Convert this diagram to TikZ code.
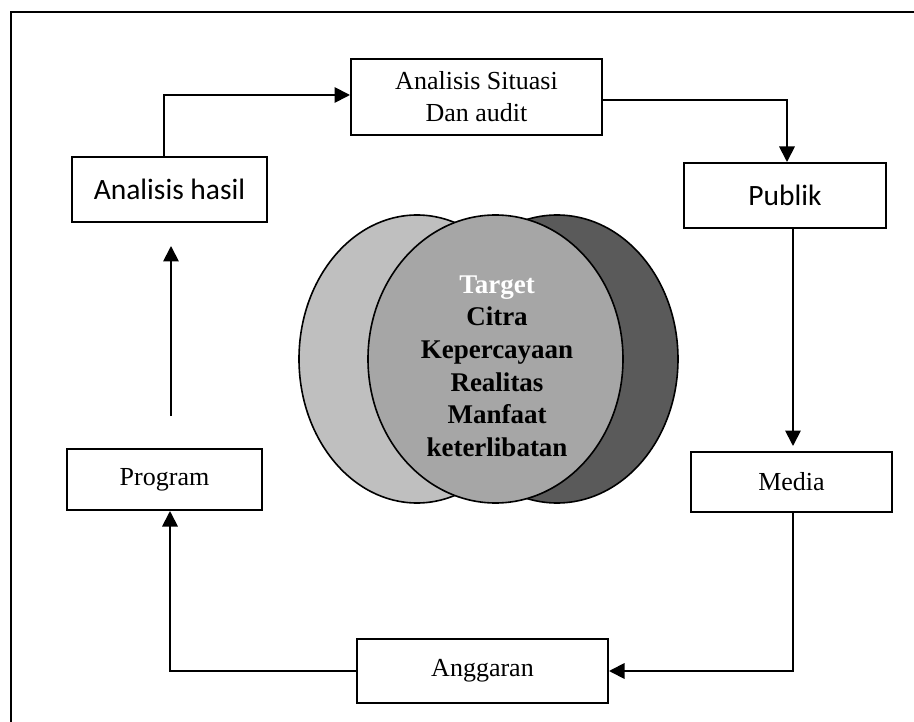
\documentclass[tikz,border=0pt]{standalone}
\usepackage{fontspec}
\setmainfont{Liberation Serif}
\newfontfamily\calib{Carlito}
\usetikzlibrary{arrows.meta,shapes.geometric}
\tikzset{
  box/.style={draw, line width=2pt, fill=white, inner sep=0pt, align=center,
    font=\fontsize{26}{32}\selectfont},
  cbox/.style={box, font=\calib\fontsize{29.5}{32}\selectfont},
  arr/.style={line width=1.8pt, -{Triangle[length=15.5pt,width=15.5pt]}},
  ell/.style={ellipse, draw, line width=1.6pt, inner sep=0pt},
}
\begin{document}
\begin{tikzpicture}[x=1pt,y=-1pt]
\useasboundingbox (0,0) rectangle (914,722);
% frame
\draw[line width=2pt] (11,722) -- (11,12) -- (914,12);
% boxes
\node[box, minimum width=251pt, minimum height=76pt] (sit) at (476.5,97) {Analisis Situasi\\Dan audit};
\node[cbox, minimum width=195pt, minimum height=65pt] (hasil) at (169.5,189.5) {Analisis hasil};
\node[cbox, minimum width=202pt, minimum height=65pt] (publik) at (785,195.5) {Publik};
\node[box, minimum width=201pt, minimum height=60pt] (media) at (791.5,482) {Media};
\node[box, minimum width=251pt, minimum height=64pt] (angg) at (482.5,671) {Anggaran};
\node[box, minimum width=195pt, minimum height=61pt] (prog) at (164.5,479.5) {Program};
% ellipses
\node[ell, fill={rgb,255:red,191;green,191;blue,191}, minimum width=236pt, minimum height=288pt] (e1) at (417,359) {};
\node[ell, fill={rgb,255:red,90;green,90;blue,90}, minimum width=242pt, minimum height=288pt] (e3) at (557,359) {};
\node[ell, fill={rgb,255:red,166;green,166;blue,166}, minimum width=255pt, minimum height=288pt] (e2) at (495.5,359) {};
\node[align=center, font=\bfseries\fontsize{27}{32.6}\selectfont] (tx) at (497,366)
  {\textcolor{white}{Target}\\Citra\\Kepercayaan\\Realitas\\Manfaat\\keterlibatan};
% connectors
\draw[arr] ([xshift=-5.5pt]hasil.north) |- ([yshift=2pt]sit.west);
\draw[arr] ([yshift=-3pt]sit.east) -| ([xshift=2pt]publik.north);
\draw[arr] ([xshift=1.5pt]media.north |- publik.south) -- ([xshift=1.5pt,yshift=5pt]media.north);
\draw[arr] ([xshift=1.5pt]media.south) |- (angg.east);
\draw[arr] (angg.west) -| ([xshift=5.5pt]prog.south);
\draw[arr] ([xshift=6.5pt,yshift=32pt]prog.north) -- ([xshift=1.5pt,yshift=-23pt]hasil.south);
\end{tikzpicture}
\end{document}
